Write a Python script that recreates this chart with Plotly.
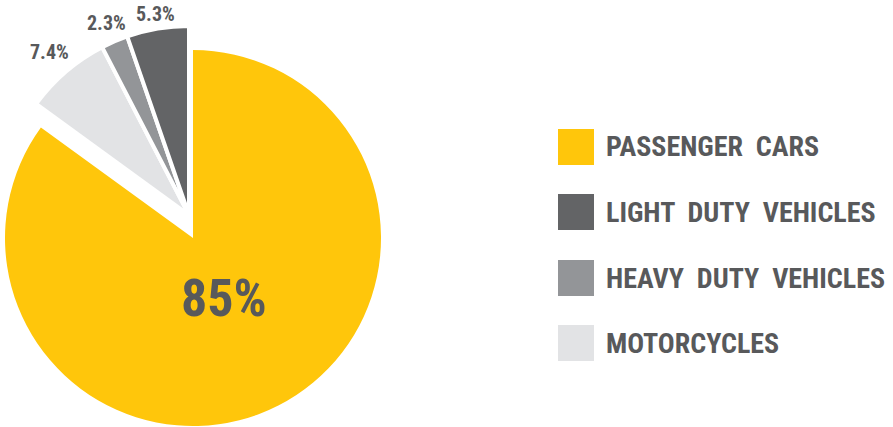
import math
import plotly.graph_objects as go

# ---- data ----
pie_labels = ["PASSENGER CARS", "MOTORCYCLES", "HEAVY DUTY VEHICLES", "LIGHT DUTY VEHICLES"]
pie_values = [85, 7.4, 2.3, 5.3]
pie_colors = ["#FFC60B", "#E2E3E5", "#939598", "#636466"]

legend_labels = ["PASSENGER  CARS", "LIGHT  DUTY  VEHICLES", "HEAVY  DUTY  VEHICLES", "MOTORCYCLES"]
legend_colors = ["#FFC60B", "#636466", "#939598", "#E2E3E5"]

W, H = 893, 427
TXT = "#58595B"
FONT = "Roboto Condensed, Liberation Sans Narrow, Arial Narrow, sans-serif"
CLEAR = "rgba(0,0,0,0)"
GAP = 4  # white separator width between pulled slices

pct_text = [f"{v:g}%" for v in pie_values]

# geometry (pixels)
MAIN_C, MAIN_R = (193, 238), 188
GRP_C, GRP_R = (189, 215), 189


def dom(c, r):
    cx, cy = c
    return dict(x=[(cx - r) / W, (cx + r) / W], y=[1 - (cy + r) / H, 1 - (cy - r) / H])


def px(x, y):
    return x / W, 1 - y / H


fig = go.Figure()

# main (passenger cars) slice
fig.add_trace(go.Pie(
    labels=pie_labels, values=pie_values, sort=False, direction="clockwise", rotation=0,
    marker=dict(colors=[pie_colors[0], CLEAR, CLEAR, CLEAR], line=dict(width=0)),
    textinfo="none", domain=dom(MAIN_C, MAIN_R), showlegend=False, hoverinfo="label+percent",
))

# pulled-out group of small slices
fig.add_trace(go.Pie(
    labels=pie_labels, values=pie_values, sort=False, direction="clockwise", rotation=0,
    marker=dict(colors=[CLEAR] + pie_colors[1:],
                line=dict(color=[CLEAR, "white", "white", "white"], width=GAP)),
    textinfo="none", domain=dom(GRP_C, GRP_R), showlegend=False, hoverinfo="label+percent",
))

annotations, shapes = [], []

# percentage labels placed from slice bisectors
total = sum(pie_values)
cum = 0.0
for i, (v, t) in enumerate(zip(pie_values, pct_text)):
    mid = (cum + v / 2) / total * 2 * math.pi  # clockwise from 12 o'clock
    cum += v
    sx, sy = math.sin(mid), -math.cos(mid)
    if i == 0:
        cx, cy = MAIN_C
        d = MAIN_R * 0.36
        x, y = cx + d * sx, cy + d * sy
        size = 52
    else:
        cx, cy = GRP_C
        rvis = GRP_R - GAP / 2
        d = rvis + 26 * abs(sx) + 8 * abs(sy) + 4.4
        x, y = cx + d * sx, cy + d * sy
        size = 20
    ax, ay = px(x, y)
    annotations.append(dict(xref="paper", yref="paper", x=ax, y=ay, xanchor="center", yanchor="middle",
                            showarrow=False, text=t,
                            font=dict(family=FONT, size=size, weight="bold", color=TXT)))

# legend drawn as squares + labels
row_tops = [129, 194, 260, 325]
for lab, col, top in zip(legend_labels, legend_colors, row_tops):
    shapes.append(dict(type="rect", xref="paper", yref="paper",
                       x0=558 / W, x1=594 / W, y0=1 - (top + 36) / H, y1=1 - top / H,
                       fillcolor=col, line=dict(width=0)))
    annotations.append(dict(xref="paper", yref="paper", x=604 / W, y=1 - (top + 18) / H,
                            xanchor="left", yanchor="middle", showarrow=False, text=lab,
                            font=dict(family=FONT, size=28, weight="bold", color=TXT)))

fig.update_layout(
    width=W, height=H, margin=dict(l=0, r=0, t=0, b=0),
    paper_bgcolor="white", plot_bgcolor="white",
    shapes=shapes, annotations=annotations,
)

fig.write_html("out.html", config={"displayModeBar": False},
               post_script=["document.body.style.margin='0';"])
